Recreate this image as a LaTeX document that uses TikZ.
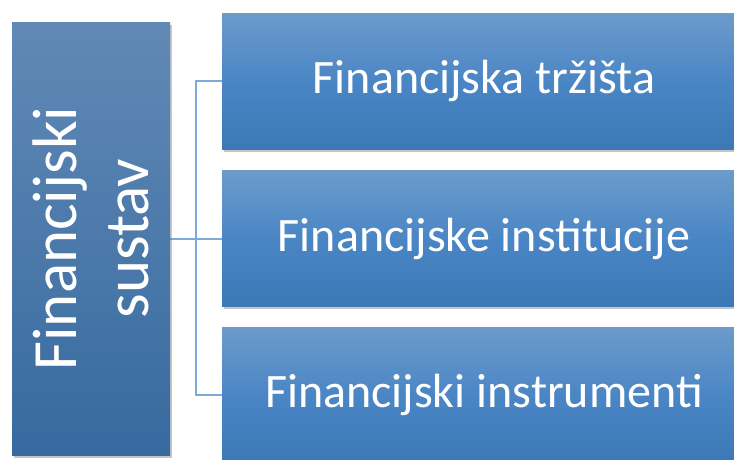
\documentclass[tikz,border=0pt]{standalone}
\usepackage{fontspec}
\setmainfont{Carlito}
\usetikzlibrary{shadows,calc,backgrounds}
\definecolor{lefttop}{HTML}{6189B6}
\definecolor{leftbot}{HTML}{376A9F}
\definecolor{rtop}{HTML}{6C9BCB}
\definecolor{rmid}{HTML}{4A86C5}
\definecolor{rbot}{HTML}{3C78B6}
\definecolor{conn}{HTML}{7FA8DC}
\tikzset{
  mainbox/.style={minimum width=158pt, minimum height=433pt, inner sep=0pt,
    top color=lefttop, bottom color=leftbot, text=white,
    drop shadow={opacity=0.45, shadow xshift=1.5pt, shadow yshift=-2.5pt}},
  subbox/.style={minimum width=524pt, minimum height=136pt, inner sep=0pt,
    top color=rtop, bottom color=rbot, middle color=rmid, text=white,
    font=\fontsize{48}{52}\selectfont,
    drop shadow={opacity=0.45, shadow xshift=1.5pt, shadow yshift=-2.5pt}},
  link/.style={draw=conn, line width=2pt}
}
\begin{document}
\begin{tikzpicture}[x=1pt,y=-1pt]
\useasboundingbox (0,0) rectangle (734,459);
\clip (0,0) rectangle (734,459);
\node[mainbox] (main) at (91,238.5) {};
\node[subbox] (b1) at (484,81) {Financijska tržišta};
\node[subbox] (b2) at (484,238.5) {Financijske institucije};
\node[subbox] (b3) at (484,395) {Financijski instrumenti};
\node[rotate=90, text=white, align=center, font=\fontsize{63}{72}\selectfont] (mt) at (main.center) {Financijski\\sustav};
\coordinate (jn) at ($(main.east)!0.5!(b2.west)$);
\begin{scope}[on background layer]
\fill[white] (0,0) rectangle (734,459);
\draw[link] (main.east) -- (b2.west);
\draw[link] (b1.west) -| (jn) |- (b3.west);
\end{scope}
\end{tikzpicture}
\end{document}
